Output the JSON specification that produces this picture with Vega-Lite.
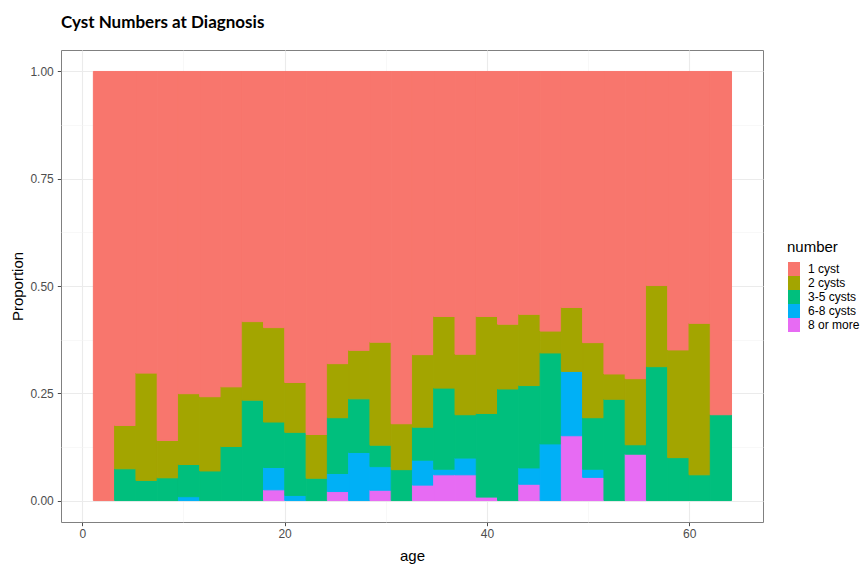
{
  "$schema": "https://vega.github.io/schema/vega-lite/v6.json",
  "width": 702,
  "height": 472,
  "autosize": {"type": "none"},
  "padding": {"left": 61, "top": 50, "right": 97, "bottom": 43},
  "background": "white",
  "title": {
    "text": "Cyst Numbers at Diagnosis",
    "anchor": "start",
    "frame": "group",
    "font": "Lato",
    "fontWeight": "bold",
    "fontSize": 17,
    "color": "#000000",
    "baseline": "alphabetic",
    "offset": 5
  },
  "data": {
    "values": [
      {"age_start": 1.05, "age_end": 3.15, "number": "1 cyst", "proportion": 1.0},
      {"age_start": 3.15, "age_end": 5.26, "number": "3-5 cysts", "proportion": 0.074},
      {"age_start": 3.15, "age_end": 5.26, "number": "2 cysts", "proportion": 0.101},
      {"age_start": 3.15, "age_end": 5.26, "number": "1 cyst", "proportion": 0.825},
      {"age_start": 5.26, "age_end": 7.36, "number": "3-5 cysts", "proportion": 0.047},
      {"age_start": 5.26, "age_end": 7.36, "number": "2 cysts", "proportion": 0.25},
      {"age_start": 5.26, "age_end": 7.36, "number": "1 cyst", "proportion": 0.703},
      {"age_start": 7.36, "age_end": 9.46, "number": "3-5 cysts", "proportion": 0.053},
      {"age_start": 7.36, "age_end": 9.46, "number": "2 cysts", "proportion": 0.087},
      {"age_start": 7.36, "age_end": 9.46, "number": "1 cyst", "proportion": 0.86},
      {"age_start": 9.46, "age_end": 11.56, "number": "6-8 cysts", "proportion": 0.009},
      {"age_start": 9.46, "age_end": 11.56, "number": "3-5 cysts", "proportion": 0.075},
      {"age_start": 9.46, "age_end": 11.56, "number": "2 cysts", "proportion": 0.165},
      {"age_start": 9.46, "age_end": 11.56, "number": "1 cyst", "proportion": 0.751},
      {"age_start": 11.56, "age_end": 13.67, "number": "3-5 cysts", "proportion": 0.069},
      {"age_start": 11.56, "age_end": 13.67, "number": "2 cysts", "proportion": 0.173},
      {"age_start": 11.56, "age_end": 13.67, "number": "1 cyst", "proportion": 0.758},
      {"age_start": 13.67, "age_end": 15.77, "number": "3-5 cysts", "proportion": 0.126},
      {"age_start": 13.67, "age_end": 15.77, "number": "2 cysts", "proportion": 0.139},
      {"age_start": 13.67, "age_end": 15.77, "number": "1 cyst", "proportion": 0.735},
      {"age_start": 15.77, "age_end": 17.87, "number": "3-5 cysts", "proportion": 0.234},
      {"age_start": 15.77, "age_end": 17.87, "number": "2 cysts", "proportion": 0.183},
      {"age_start": 15.77, "age_end": 17.87, "number": "1 cyst", "proportion": 0.583},
      {"age_start": 17.87, "age_end": 19.97, "number": "8 or more", "proportion": 0.025},
      {"age_start": 17.87, "age_end": 19.97, "number": "6-8 cysts", "proportion": 0.052},
      {"age_start": 17.87, "age_end": 19.97, "number": "3-5 cysts", "proportion": 0.106},
      {"age_start": 17.87, "age_end": 19.97, "number": "2 cysts", "proportion": 0.22},
      {"age_start": 17.87, "age_end": 19.97, "number": "1 cyst", "proportion": 0.597},
      {"age_start": 19.97, "age_end": 22.08, "number": "6-8 cysts", "proportion": 0.012},
      {"age_start": 19.97, "age_end": 22.08, "number": "3-5 cysts", "proportion": 0.147},
      {"age_start": 19.97, "age_end": 22.08, "number": "2 cysts", "proportion": 0.116},
      {"age_start": 19.97, "age_end": 22.08, "number": "1 cyst", "proportion": 0.725},
      {"age_start": 22.08, "age_end": 24.18, "number": "3-5 cysts", "proportion": 0.052},
      {"age_start": 22.08, "age_end": 24.18, "number": "2 cysts", "proportion": 0.102},
      {"age_start": 22.08, "age_end": 24.18, "number": "1 cyst", "proportion": 0.846},
      {"age_start": 24.18, "age_end": 26.28, "number": "8 or more", "proportion": 0.021},
      {"age_start": 24.18, "age_end": 26.28, "number": "6-8 cysts", "proportion": 0.042},
      {"age_start": 24.18, "age_end": 26.28, "number": "3-5 cysts", "proportion": 0.13},
      {"age_start": 24.18, "age_end": 26.28, "number": "2 cysts", "proportion": 0.126},
      {"age_start": 24.18, "age_end": 26.28, "number": "1 cyst", "proportion": 0.681},
      {"age_start": 26.28, "age_end": 28.39, "number": "6-8 cysts", "proportion": 0.112},
      {"age_start": 26.28, "age_end": 28.39, "number": "3-5 cysts", "proportion": 0.125},
      {"age_start": 26.28, "age_end": 28.39, "number": "2 cysts", "proportion": 0.113},
      {"age_start": 26.28, "age_end": 28.39, "number": "1 cyst", "proportion": 0.65},
      {"age_start": 28.39, "age_end": 30.49, "number": "8 or more", "proportion": 0.024},
      {"age_start": 28.39, "age_end": 30.49, "number": "6-8 cysts", "proportion": 0.055},
      {"age_start": 28.39, "age_end": 30.49, "number": "3-5 cysts", "proportion": 0.05},
      {"age_start": 28.39, "age_end": 30.49, "number": "2 cysts", "proportion": 0.24},
      {"age_start": 28.39, "age_end": 30.49, "number": "1 cyst", "proportion": 0.631},
      {"age_start": 30.49, "age_end": 32.59, "number": "3-5 cysts", "proportion": 0.072},
      {"age_start": 30.49, "age_end": 32.59, "number": "2 cysts", "proportion": 0.107},
      {"age_start": 30.49, "age_end": 32.59, "number": "1 cyst", "proportion": 0.821},
      {"age_start": 32.59, "age_end": 34.69, "number": "8 or more", "proportion": 0.036},
      {"age_start": 32.59, "age_end": 34.69, "number": "6-8 cysts", "proportion": 0.058},
      {"age_start": 32.59, "age_end": 34.69, "number": "3-5 cysts", "proportion": 0.077},
      {"age_start": 32.59, "age_end": 34.69, "number": "2 cysts", "proportion": 0.169},
      {"age_start": 32.59, "age_end": 34.69, "number": "1 cyst", "proportion": 0.66},
      {"age_start": 34.69, "age_end": 36.8, "number": "8 or more", "proportion": 0.06},
      {"age_start": 34.69, "age_end": 36.8, "number": "6-8 cysts", "proportion": 0.013},
      {"age_start": 34.69, "age_end": 36.8, "number": "3-5 cysts", "proportion": 0.189},
      {"age_start": 34.69, "age_end": 36.8, "number": "2 cysts", "proportion": 0.167},
      {"age_start": 34.69, "age_end": 36.8, "number": "1 cyst", "proportion": 0.571},
      {"age_start": 36.8, "age_end": 38.9, "number": "8 or more", "proportion": 0.06},
      {"age_start": 36.8, "age_end": 38.9, "number": "6-8 cysts", "proportion": 0.039},
      {"age_start": 36.8, "age_end": 38.9, "number": "3-5 cysts", "proportion": 0.101},
      {"age_start": 36.8, "age_end": 38.9, "number": "2 cysts", "proportion": 0.141},
      {"age_start": 36.8, "age_end": 38.9, "number": "1 cyst", "proportion": 0.659},
      {"age_start": 38.9, "age_end": 41.0, "number": "8 or more", "proportion": 0.008},
      {"age_start": 38.9, "age_end": 41.0, "number": "3-5 cysts", "proportion": 0.195},
      {"age_start": 38.9, "age_end": 41.0, "number": "2 cysts", "proportion": 0.226},
      {"age_start": 38.9, "age_end": 41.0, "number": "1 cyst", "proportion": 0.571},
      {"age_start": 41.0, "age_end": 43.1, "number": "3-5 cysts", "proportion": 0.26},
      {"age_start": 41.0, "age_end": 43.1, "number": "2 cysts", "proportion": 0.151},
      {"age_start": 41.0, "age_end": 43.1, "number": "1 cyst", "proportion": 0.589},
      {"age_start": 43.1, "age_end": 45.21, "number": "8 or more", "proportion": 0.038},
      {"age_start": 43.1, "age_end": 45.21, "number": "6-8 cysts", "proportion": 0.038},
      {"age_start": 43.1, "age_end": 45.21, "number": "3-5 cysts", "proportion": 0.192},
      {"age_start": 43.1, "age_end": 45.21, "number": "2 cysts", "proportion": 0.166},
      {"age_start": 43.1, "age_end": 45.21, "number": "1 cyst", "proportion": 0.566},
      {"age_start": 45.21, "age_end": 47.31, "number": "6-8 cysts", "proportion": 0.132},
      {"age_start": 45.21, "age_end": 47.31, "number": "3-5 cysts", "proportion": 0.212},
      {"age_start": 45.21, "age_end": 47.31, "number": "2 cysts", "proportion": 0.051},
      {"age_start": 45.21, "age_end": 47.31, "number": "1 cyst", "proportion": 0.605},
      {"age_start": 47.31, "age_end": 49.41, "number": "8 or more", "proportion": 0.151},
      {"age_start": 47.31, "age_end": 49.41, "number": "6-8 cysts", "proportion": 0.15},
      {"age_start": 47.31, "age_end": 49.41, "number": "2 cysts", "proportion": 0.149},
      {"age_start": 47.31, "age_end": 49.41, "number": "1 cyst", "proportion": 0.55},
      {"age_start": 49.41, "age_end": 51.52, "number": "8 or more", "proportion": 0.054},
      {"age_start": 49.41, "age_end": 51.52, "number": "6-8 cysts", "proportion": 0.019},
      {"age_start": 49.41, "age_end": 51.52, "number": "3-5 cysts", "proportion": 0.12},
      {"age_start": 49.41, "age_end": 51.52, "number": "2 cysts", "proportion": 0.175},
      {"age_start": 49.41, "age_end": 51.52, "number": "1 cyst", "proportion": 0.632},
      {"age_start": 51.52, "age_end": 53.62, "number": "3-5 cysts", "proportion": 0.236},
      {"age_start": 51.52, "age_end": 53.62, "number": "2 cysts", "proportion": 0.059},
      {"age_start": 51.52, "age_end": 53.62, "number": "1 cyst", "proportion": 0.705},
      {"age_start": 53.62, "age_end": 55.72, "number": "8 or more", "proportion": 0.108},
      {"age_start": 53.62, "age_end": 55.72, "number": "3-5 cysts", "proportion": 0.022},
      {"age_start": 53.62, "age_end": 55.72, "number": "2 cysts", "proportion": 0.154},
      {"age_start": 53.62, "age_end": 55.72, "number": "1 cyst", "proportion": 0.716},
      {"age_start": 55.72, "age_end": 57.82, "number": "3-5 cysts", "proportion": 0.312},
      {"age_start": 55.72, "age_end": 57.82, "number": "2 cysts", "proportion": 0.189},
      {"age_start": 55.72, "age_end": 57.82, "number": "1 cyst", "proportion": 0.499},
      {"age_start": 57.82, "age_end": 59.93, "number": "3-5 cysts", "proportion": 0.1},
      {"age_start": 57.82, "age_end": 59.93, "number": "2 cysts", "proportion": 0.251},
      {"age_start": 57.82, "age_end": 59.93, "number": "1 cyst", "proportion": 0.649},
      {"age_start": 59.93, "age_end": 62.03, "number": "3-5 cysts", "proportion": 0.06},
      {"age_start": 59.93, "age_end": 62.03, "number": "2 cysts", "proportion": 0.353},
      {"age_start": 59.93, "age_end": 62.03, "number": "1 cyst", "proportion": 0.587},
      {"age_start": 62.03, "age_end": 64.13, "number": "3-5 cysts", "proportion": 0.2},
      {"age_start": 62.03, "age_end": 64.13, "number": "1 cyst", "proportion": 0.8}
    ]
  },
  "mark": {"type": "bar", "strokeWidth": 1, "strokeOpacity": 1, "fillOpacity": 1, "opacity": 1, "binSpacing": 0},
  "encoding": {
    "x": {
      "field": "age_start",
      "type": "quantitative",
      "bin": "binned",
      "scale": {"domain": [-2.1, 67.29], "nice": false, "zero": false},
      "axis": {
        "title": "age",
        "values": [0, 10, 20, 30, 40, 50, 60],
        "labelExpr": "datum.value % 20 === 0 ? format(datum.value, 'd') : ''",
        "domain": false,
        "grid": true,
        "gridColor": {"condition": {"test": "datum.value % 20 !== 0", "value": "#f3f3f3"}, "value": "#ebebeb"},
        "gridWidth": {"condition": {"test": "datum.value % 20 !== 0", "value": 0.6}, "value": 1.1},
        "tickColor": {"condition": {"test": "datum.value % 20 !== 0", "value": "transparent"}, "value": "#4d4d4d"},
        "tickSize": 3.7,
        "tickWidth": 1,
        "labelFont": "Liberation Sans",
        "labelFontSize": 12,
        "labelColor": "#4d4d4d",
        "labelPadding": 3,
        "titleFont": "Liberation Sans",
        "titleFontSize": 15,
        "titleFontWeight": "normal",
        "titleColor": "#000000",
        "titleBaseline": "alphabetic",
        "titleX": 351,
        "titleY": 38
      }
    },
    "x2": {"field": "age_end"},
    "y": {
      "field": "proportion",
      "type": "quantitative",
      "stack": "zero",
      "scale": {"domain": [-0.05, 1.05], "nice": false, "zero": false},
      "axis": {
        "title": "Proportion",
        "values": [0, 0.125, 0.25, 0.375, 0.5, 0.625, 0.75, 0.875, 1],
        "labelExpr": "(datum.value * 8) % 2 === 0 ? format(datum.value, '.2f') : ''",
        "domain": false,
        "grid": true,
        "gridColor": {"condition": {"test": "(datum.value * 8) % 2 !== 0", "value": "#f3f3f3"}, "value": "#ebebeb"},
        "gridWidth": {"condition": {"test": "(datum.value * 8) % 2 !== 0", "value": 0.6}, "value": 1.1},
        "tickColor": {"condition": {"test": "(datum.value * 8) % 2 !== 0", "value": "transparent"}, "value": "#4d4d4d"},
        "tickSize": 3.7,
        "tickWidth": 1,
        "labelFont": "Liberation Sans",
        "labelFontSize": 12,
        "labelColor": "#4d4d4d",
        "labelPadding": 4,
        "titleFont": "Liberation Sans",
        "titleFontSize": 15,
        "titleFontWeight": "normal",
        "titleColor": "#000000",
        "titleBaseline": "alphabetic",
        "titleAngle": -90,
        "titleX": -39,
        "titleY": 236
      }
    },
    "color": {
      "field": "number",
      "type": "nominal",
      "scale": {
        "domain": ["1 cyst", "2 cysts", "3-5 cysts", "6-8 cysts", "8 or more"],
        "range": ["#F8766D", "#A3A500", "#00BF7D", "#00B0F6", "#E76BF3"]
      },
      "legend": {
        "title": "number",
        "orient": "none",
        "legendX": 726,
        "legendY": 190,
        "titleFont": "Liberation Sans",
        "titleFontSize": 15,
        "titleFontWeight": "normal",
        "titleColor": "#000000",
        "titleBaseline": "top",
        "titlePadding": 7,
        "labelFont": "Liberation Sans",
        "labelFontSize": 12,
        "labelColor": "#000000",
        "labelOffset": 7,
        "symbolType": "M-0.857,-1H0.857V1H-0.857Z",
        "symbolSize": 196,
        "symbolStrokeWidth": 0,
        "symbolOpacity": 1,
        "rowPadding": 0,
        "padding": 0
      }
    },
    "stroke": {
      "field": "number",
      "type": "nominal",
      "scale": {
        "domain": ["1 cyst", "2 cysts", "3-5 cysts", "6-8 cysts", "8 or more"],
        "range": ["#F8766D", "#A3A500", "#00BF7D", "#00B0F6", "#E76BF3"]
      },
      "legend": null
    },
    "order": {"field": "number", "sort": "descending"}
  },
  "config": {
    "view": {"stroke": "#808080", "strokeWidth": 1}
  }
}
